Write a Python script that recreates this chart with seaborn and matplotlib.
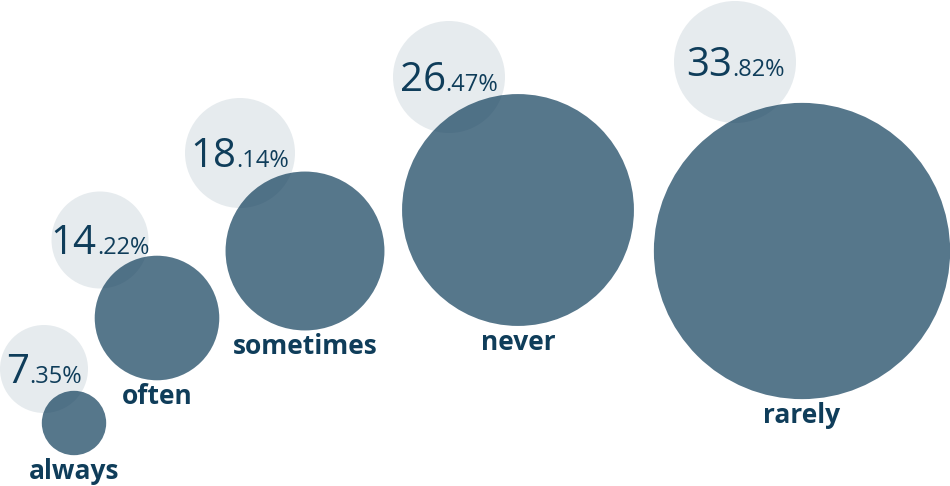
import matplotlib
matplotlib.use("Agg")
import matplotlib.pyplot as plt
import seaborn as sns
import pandas as pd

# ---- data ----
categories = ["always", "often", "sometimes", "never", "rarely"]
percentages = [7.35, 14.22, 18.14, 26.47, 33.82]

# ---- layout (pixel canvas, y downward) ----
bubble_x = [74, 157, 305, 518, 802]
bubble_y = [423, 318, 251, 210, 251]
badge_x = [44, 100, 240, 449, 735]
badge_y = [369, 240, 153, 77, 62]
badge_r = [44, 48.5, 55, 56, 61]
PX_PER_UNIT = 4.38          # bubble radius in px per percentage point
W, H, DPI = 950, 486, 100
PT_PER_PX = 72 / DPI

NAVY = "#0f3d5a"
BADGE = "#e6ebee"

sns.set_theme(style="white")
plt.rcParams["font.family"] = ["Open Sans", "DejaVu Sans"]

df = pd.DataFrame({
    "category": categories,
    "pct": percentages,
    "x": bubble_x,
    "y": bubble_y,
    "bx": badge_x,
    "by": badge_y,
    "br": badge_r,
})
df["area"] = df["pct"] ** 2
df["badge_s"] = (2 * df["br"] * PT_PER_PX) ** 2

fig = plt.figure(figsize=(W / DPI, H / DPI), dpi=DPI)
fig.patch.set_facecolor("white")
ax = fig.add_axes([0, 0, 1, 1])

# light badge circles
ax.scatter(df["bx"], df["by"], s=df["badge_s"], color=BADGE, linewidths=0, zorder=1)

# main bubbles: radius proportional to value -> area proportional to value^2
max_area = df["area"].max()
s_max = (2 * PX_PER_UNIT * df["pct"].max() * PT_PER_PX) ** 2
sns.scatterplot(data=df, x="x", y="y", size="area", sizes=(0, s_max),
                size_norm=(0, max_area), color=NAVY, alpha=0.7, linewidth=0,
                legend=False, ax=ax, zorder=2)
ax.set_xlim(0, W)
ax.set_ylim(H, 0)
ax.set_axis_off()

# category labels below bubbles
for _, r in df.iterrows():
    bottom = r["y"] + PX_PER_UNIT * r["pct"]
    ax.text(r["x"], bottom + 24, r["category"], ha="center", va="baseline",
            fontsize=19, fontweight="bold", color=NAVY, zorder=4)

# percentage badges: big integer part + small decimals
fig.canvas.draw()
renderer = fig.canvas.get_renderer()
for _, r in df.iterrows():
    whole, frac = f"{r['pct']:.2f}".split(".")
    baseline = r["by"] + 14
    t1 = ax.text(0, baseline, whole, ha="left", va="baseline", fontsize=29,
                 color=NAVY, zorder=5)
    t2 = ax.text(0, baseline, "." + frac + "%", ha="left", va="baseline",
                 fontsize=17, color=NAVY, zorder=5)
    w1 = t1.get_window_extent(renderer).width
    w2 = t2.get_window_extent(renderer).width
    x0 = r["bx"] - (w1 + w2) / 2
    t1.set_x(x0)
    t2.set_x(x0 + w1)

fig.savefig("out.png", dpi=DPI, facecolor="white")
